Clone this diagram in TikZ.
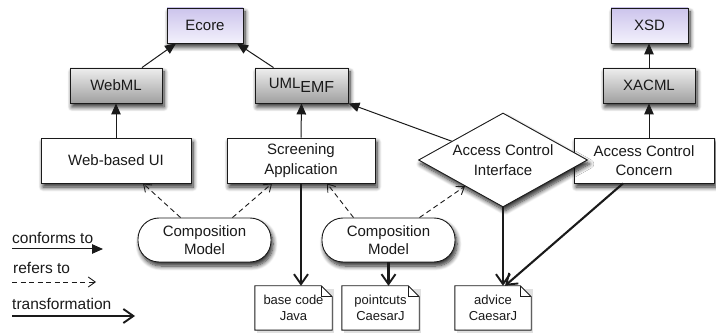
\documentclass[tikz,border=0pt]{standalone}
\usepackage{fontspec}
\setmainfont{Liberation Sans}
\usetikzlibrary{arrows.meta,shapes.geometric,shadows.blur,calc}
\definecolor{ink}{HTML}{1A1A1A}
\definecolor{lavtop}{HTML}{CCC4EC}
\definecolor{lavbot}{HTML}{F3F1FC}
\definecolor{graytop}{HTML}{EEEEEE}
\definecolor{graybot}{HTML}{A0A0A0}
\tikzset{
  shad/.style={blur shadow={shadow xshift=2pt,shadow yshift=-4pt,shadow blur radius=4.5pt,shadow blur steps=8,shadow opacity=85}},
  box/.style={draw=ink, line width=0.9pt, inner sep=2pt, align=center, text=ink,
    font=\fontsize{15}{19.5}\selectfont, shad},
  metabox/.style={box, minimum height=35pt, top color=lavtop, bottom color=lavbot},
  langbox/.style={box, minimum height=35pt, top color=graytop, bottom color=graybot},
  modelbox/.style={box, fill=white, minimum height=45pt},
  pill/.style={box, fill=white, minimum width=133pt, minimum height=44pt, rounded corners=21pt,
    font=\fontsize{15}{17.5}\selectfont},
  ifbox/.style={box, fill=white, shape=diamond, aspect=1.8, inner sep=-6pt, minimum width=169pt, minimum height=94pt},
  docbox/.style={inner sep=0pt, minimum width=77pt, minimum height=44pt, align=center, text=ink,
    font=\fontsize{13}{15.5}\selectfont},
  conf/.style={draw=ink, line width=1pt, -{Triangle[length=11pt,width=9.5pt]}},
  refer/.style={draw=ink, line width=0.9pt, dash pattern=on 5pt off 3.5pt, -{Straight Barb[length=7pt,width=10pt]}},
  trans/.style={draw=ink, line width=2.1pt, -{Straight Barb[length=10pt,width=14pt,line width=1.9pt]}},
  legend/.style={inner sep=0pt, anchor=base west, text=ink, font=\fontsize{15.5}{18}\selectfont},
}
\newcommand{\docshape}[1]{%
  \fill[black, opacity=0.12] ([xshift=2pt,yshift=-3pt]#1.north west) rectangle ([xshift=2pt,yshift=-3pt]#1.south east);
  \filldraw[draw=ink, fill=white, line width=0.9pt] (#1.north west) -- ([xshift=-11pt]#1.north east) -- ([yshift=-11pt]#1.north east) -- (#1.south east) -- (#1.south west) -- cycle;
  \draw[ink, line width=0.6pt] ([xshift=-11pt]#1.north east) -- ([xshift=-11pt,yshift=-11pt]#1.north east) -- ([yshift=-11pt]#1.north east);
}
\begin{document}
\begin{tikzpicture}[x=1pt,y=-1pt]
\useasboundingbox (0,0) rectangle (716,334);
% metamodels
\node[metabox, minimum width=76pt] (ecore) at (205,25.5) {Ecore};
\node[metabox, minimum width=77pt] (xsd) at (649.5,25.5) {XSD};
\node[langbox, minimum width=92pt] (webml) at (116,85.5) {WebML};
\node[langbox, minimum width=93pt] (uml) at (301.5,85.5) {UML\raisebox{-4pt}{\fontsize{16}{18}\selectfont EMF}};
\node[langbox, minimum width=92pt] (xacml) at (649,85.5) {XACML};
% models
\node[modelbox, minimum width=150pt] (webui) at (116,160.5) {Web-based UI};
\node[modelbox, minimum width=148pt] (screen) at (301,160.5) {Screening\\Application};
\node[modelbox, minimum width=140pt] (concern) at (644,160.5) {Access Control\\Concern};
\node[ifbox] (iface) at (503,160) {Access Control\\Interface};
\node[pill] (cm1) at (204.5,240) {Composition\\Model};
\node[pill] (cm2) at (388.5,240) {Composition\\Model};
% documents
\node[docbox] (base) at (293.5,308) {};
\node[docbox] (pc) at (380.5,308) {};
\node[docbox, minimum width=76pt] (adv) at (493,308) {};
\docshape{base}\docshape{pc}\docshape{adv}
\node[docbox] (baset) at (base) {base code\\Java};
\node[docbox] (pct) at (pc) {pointcuts\\CaesarJ};
\node[docbox] (advt) at (adv) {advice\\CaesarJ};
% conforms to
\draw[conf] ([xshift=26pt]webml.north) -- ([xshift=-29pt]ecore.south);
\draw[conf] ([xshift=-28pt]uml.north) -- ([xshift=32pt]ecore.south);
\draw[conf] (xacml.north) -- (xacml.north |- xsd.south);
\draw[conf] (webui.north) -- (webml.south);
\draw[conf] (screen.north) -- (uml.south);
\draw[conf] (concern.north -| xacml.south) -- (xacml.south);
\draw[conf] (iface) -- (uml.south east);
% refers to
\draw[refer] ([xshift=-24pt]cm1.north) -- ([xshift=27pt]webui.south);
\draw[refer] ([xshift=28pt]cm1.north) -- ([xshift=-29pt]screen.south);
\draw[refer] ([xshift=-35pt]cm2.north) -- ([xshift=26pt]screen.south);
\draw[refer] ([xshift=31pt]cm2.north) -- (iface);
% transformations
\draw[trans] (screen.south) -- (screen.south |- base.north);
\draw[trans] (cm2.south) -- (cm2.south |- pc.north);
\draw[trans] (iface.south) -- (iface.south |- adv.north);
\draw[trans] ([xshift=-21pt]concern.south) -- ([xshift=12pt]adv.north);
% legend
\node[legend] (lconf) at (12,244) {conforms to};
\node[legend] (lref) at (13,273) {refers to};
\node[legend] (ltrans) at (12,309) {transformation};
\coordinate (lc1) at (12,249);
\coordinate (lc2) at (103,249);
\coordinate (lr1) at (12,282);
\coordinate (lr2) at (96,282);
\coordinate (lt1) at (12,316);
\coordinate (lt2) at (135,316);
\draw[conf] (lc1) -- (lc2);
\draw[refer] (lr1) -- (lr2);
\draw[trans] (lt1) -- (lt2);
\end{tikzpicture}
\end{document}
